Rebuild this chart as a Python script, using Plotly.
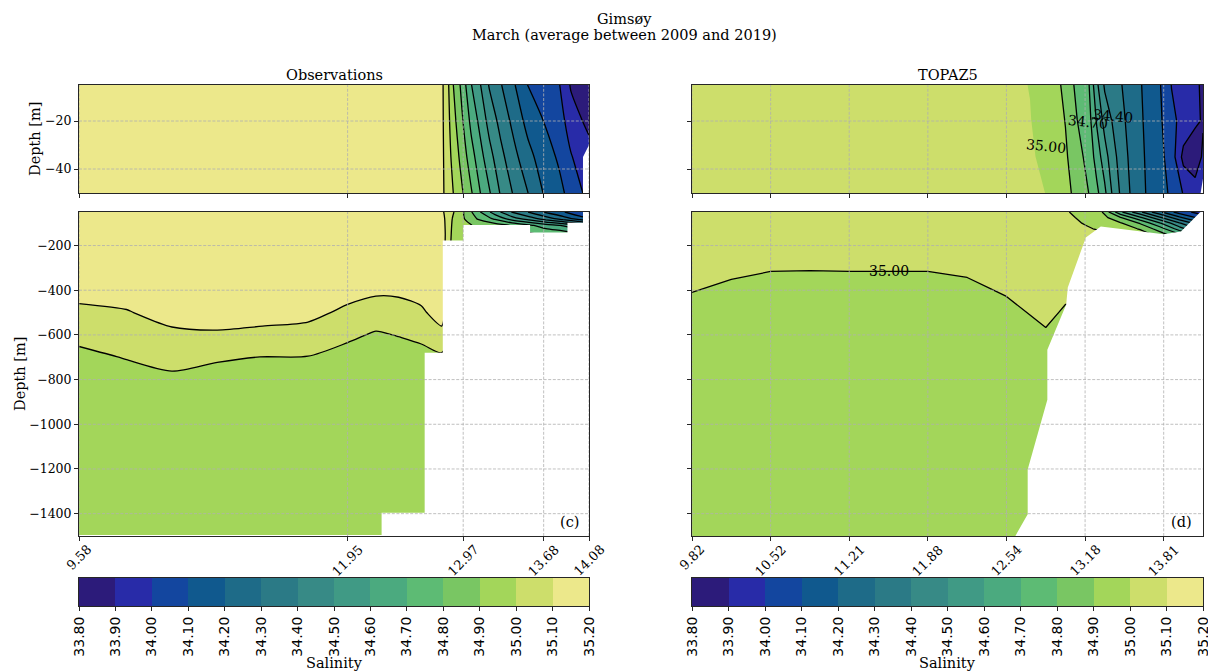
import plotly.graph_objects as go

# ---------------------------------------------------------------------------
# Salinity contour levels and the colour of each band between two levels
# ---------------------------------------------------------------------------
levels = [33.80, 33.90, 34.00, 34.10, 34.20, 34.30, 34.40, 34.50,
          34.60, 34.70, 34.80, 34.90, 35.00, 35.10, 35.20]
band_colors = ["#2c1b7a", "#282ba8", "#13469f", "#10598e", "#1e6b88",
               "#2b7a86", "#378a86", "#409a85", "#4baa7f", "#5dbb74",
               "#79c663", "#a3d65a", "#cdde6b", "#ece88b"]

# ---------------------------------------------------------------------------
# Observations (longitude, depth [m], salinity)
# ---------------------------------------------------------------------------
obs_lon_shallow = [9.58, 12.70, 12.79, 12.84, 12.88, 12.94, 12.99, 13.04, 13.12,
                   13.20, 13.30, 13.42, 13.54, 13.67, 13.82, 13.92, 14.02, 14.08]
obs_depth_shallow = [-5, -20, -35, -50]
obs_sal_shallow = [
    [35.16, 35.16, 35.105, 35.005, 34.905, 34.805, 34.705, 34.605, 34.505,
     34.392, 34.308, 34.208, 34.098, 34.054, 34.002, 33.890, 33.850, 33.830],
    [35.16, 35.16, 35.107, 35.020, 34.938, 34.848, 34.762, 34.674, 34.571,
     34.465, 34.369, 34.267, 34.167, 34.103, 34.043, 33.949, 33.901, 33.880],
    [35.16, 35.16, 35.110, 35.035, 34.970, 34.890, 34.818, 34.743, 34.636,
     34.538, 34.430, 34.327, 34.235, 34.153, 34.084, 34.008, 33.952, 33.930],
    [35.16, 35.16, 35.112, 35.050, 35.003, 34.933, 34.875, 34.812, 34.702,
     34.611, 34.491, 34.386, 34.302, 34.202, 34.125, 34.067, 34.003, 33.970],
]

obs_lon_deep = [9.58, 10.0, 10.4, 10.8, 11.2, 11.6, 11.95, 12.2, 12.4, 12.6, 12.78,
                12.88, 12.97, 13.1, 13.25, 13.4, 13.55, 13.7, 13.85, 14.0, 14.08]
obs_depth_deep = [-50, -80, -110, -150, -200, -300, -400, -500, -600, -700,
                  -800, -1000, -1500]
obs_sal_deep = [
    [35.16] * 10 + [35.12, 35.01, 34.905, 34.725, 34.55, 34.395, 34.295, 34.185, 34.11, 34.02, 33.97],
    [35.16] * 10 + [35.14, 34.99, 34.91, 34.79, 34.68, 34.55, 34.45, 34.35, 34.25, 34.15, 34.11],
    [35.16] * 10 + [35.15, 34.98, 34.93, 34.88, 34.85, 34.79, 34.72, 34.65, 34.59, 34.49, 34.41],
    [35.16] * 11 + [34.97, 34.94, 34.92, 34.89, 34.86, 34.82, 34.79, 34.77, 34.71, 34.61],
    [35.16] * 11 + [34.96] * 10,
    [35.16] * 11 + [34.96] * 10,
    [35.131, 35.138, 35.16, 35.16, 35.16, 35.16, 35.137, 35.117, 35.118, 35.141, 35.16] + [34.96] * 10,
    [35.079, 35.094, 35.133, 35.155, 35.145, 35.128, 35.079, 35.053, 35.061, 35.082, 35.15] + [34.96] * 10,
    [35.027, 35.049, 35.082, 35.085, 35.071, 35.062, 35.020, 34.989, 35.004, 35.024, 35.067] + [34.96] * 10,
    [34.975, 35.005, 35.031, 35.015, 34.998, 34.997, 34.962, 34.950, 34.955, 34.965, 34.983] + [34.96] * 10,
    [34.95, 34.96, 34.981, 34.95, 34.95, 34.95, 34.95, 34.95, 34.95, 34.95, 34.95] + [34.96] * 10,
    [34.95] * 11 + [34.96] * 10,
    [34.95] * 11 + [34.96] * 10,
]

# Sea floor along the observed section
obs_bed_lon = [9.58, 12.25, 12.25, 12.63, 12.63, 12.79, 12.79, 12.97, 12.97,
               13.56, 13.56, 13.89, 13.89, 14.027, 14.027, 14.08]
obs_bed_depth = [-1496, -1496, -1396, -1396, -680, -680, -178, -178, -108,
                 -108, -142, -142, -98, -98, -35, -30]

obs_tick_lon = [9.58, 11.95, 12.97, 13.68, 14.08]

# ---------------------------------------------------------------------------
# TOPAZ5 (position along the section in grid steps, depth [m], salinity)
# ---------------------------------------------------------------------------
topaz_pos_shallow = [0, 1, 2, 3, 3.8, 4.3, 4.6, 4.75, 4.9, 5.05, 5.15, 5.25,
                     5.35, 5.5, 5.65, 5.8, 5.95, 6.1, 6.25, 6.4, 6.5]
topaz_depth_shallow = [-5, -20, -35, -50]
topaz_sal_shallow = [
    [35.06, 35.06, 35.06, 35.05, 35.03, 34.998, 34.93, 34.88, 34.768, 34.703, 34.52,
     34.385, 34.346, 34.288, 34.228, 34.168, 34.108, 33.997, 33.954, 33.911, 33.89],
    [35.06, 35.06, 35.06, 35.052, 35.033, 35.003, 34.951, 34.897, 34.801, 34.735, 34.588,
     34.464, 34.393, 34.305, 34.237, 34.174, 34.118, 34.025, 33.967, 33.91, 33.895],
    [35.06, 35.06, 35.06, 35.053, 35.037, 35.009, 34.971, 34.915, 34.835, 34.766, 34.655,
     34.543, 34.439, 34.323, 34.246, 34.181, 34.129, 34.054, 33.87, 33.86, 33.91],
    [35.06, 35.06, 35.06, 35.055, 35.04, 35.014, 34.992, 34.932, 34.868, 34.798, 34.723,
     34.622, 34.486, 34.34, 34.255, 34.187, 34.139, 34.082, 33.994, 33.93, 33.91],
]

topaz_pos_deep = [0, 0.5, 1, 1.5, 2, 2.5, 3, 3.5, 4, 4.5, 4.75,
                  5.0, 5.2, 5.45, 5.7, 5.95, 6.2, 6.5]
topaz_depth_deep = [-50, -75, -100, -125, -150, -200, -300, -400, -500, -600,
                    -700, -800, -1000, -1500]
topaz_sal_deep = [
    [35.06] * 7 + [35.055, 35.05, 35.02, 35.01, 34.96, 34.92, 34.62, 34.42, 34.22, 34.05, 33.95],
    [35.06] * 7 + [35.055, 35.05, 35.03, 35.02, 34.98, 34.95, 34.81, 34.62, 34.42, 34.22, 34.05],
    [35.06] * 7 + [35.055, 35.05, 35.035, 35.025, 34.995, 34.97, 34.91, 34.79, 34.61, 34.41, 34.21],
    [35.06] * 7 + [35.055, 35.05, 35.04, 35.03, 35.01, 34.99, 34.96, 34.89, 34.75, 34.55, 34.35],
    [35.06] * 7 + [35.055, 35.05, 35.045, 35.04, 35.03, 35.02, 35.01, 34.96, 34.85, 34.71, 34.51],
    [35.06, 35.06, 35.058, 35.056, 35.058, 35.058, 35.058, 35.06, 35.06, 35.06, 35.05,
     35.05, 35.04, 35.04, 35.04, 35.04, 35.04, 35.04],
    [35.055, 35.026, 35.008, 35.006, 35.008, 35.008, 35.008, 35.0215, 35.06, 35.06, 35.06,
     35.06, 35.04, 35.04, 35.04, 35.04, 35.04, 35.04],
    [35.005, 34.976, 34.958, 34.956, 34.958, 34.958, 34.958, 34.9715, 35.014, 35.06, 35.032,
     35.032, 35.04, 35.04, 35.04, 35.04, 35.04, 35.04],
    [34.955, 34.94, 34.94, 34.94, 34.94, 34.94, 34.94, 34.94, 34.964, 35.0335, 34.982,
     34.982, 35.04, 35.04, 35.04, 35.04, 35.04, 35.04],
    [34.94] * 9 + [34.9835, 34.94, 34.94] + [35.04] * 6,
    [34.94] * 12 + [35.04] * 6,
    [34.94] * 12 + [35.04] * 6,
    [34.94] * 12 + [35.04] * 6,
    [34.94] * 12 + [35.04] * 6,
]

# Sea floor along the model section
topaz_bed_pos = [4.0, 4.11, 4.27, 4.27, 4.52, 4.52, 4.76, 4.78, 5.01, 5.20,
                 6.00, 6.22, 6.46, 6.5]
topaz_bed_depth = [-1570, -1500, -1403, -1202, -890, -666, -464, -388, -164,
                   -115, -150, -137, -52, -44]

topaz_tick_pos = [0, 1, 2, 3, 4, 5, 6]
topaz_tick_lon = ["9.82", "10.52", "11.21", "11.88", "12.54", "13.18", "13.81"]

# ---------------------------------------------------------------------------
# Figure geometry (paper fractions of the 1208 x 671 canvas)
# ---------------------------------------------------------------------------
W, H = 1208, 671
LEFT = [79 / W, 589 / W]
RIGHT = [692 / W, 1203 / W]
TOP = [1 - 193 / H, 1 - 85 / H]
DEEP = [1 - 536 / H, 1 - 212 / H]
CBAR = [1 - 606 / H, 1 - 578 / H]

SERIF = "DejaVu Serif"
SANS = "DejaVu Sans"
SPINE = "#262626"

# Colour at each band centre; contour fills are sampled at band centres
band_scale = [[i / (len(band_colors) - 1), c] for i, c in enumerate(band_colors)]
band_mid = [round((a + b) / 2, 3) for a, b in zip(levels[:-1], levels[1:])]
level_text = ["%.2f" % v for v in levels]

fig = go.Figure()


def add_section(xa, ya, x, y, z, line_end, smooth):
    fig.add_trace(go.Contour(
        x=x, y=y, z=z, xaxis=xa, yaxis=ya,
        colorscale=band_scale, autocontour=False,
        contours=dict(start=levels[1], end=levels[-2], size=0.1,
                      coloring="fill", showlines=False),
        line=dict(width=0, smoothing=smooth),
        showscale=False, hoverinfo="skip"))
    fig.add_trace(go.Contour(
        x=x, y=y, z=z, xaxis=xa, yaxis=ya, autocontour=False,
        contours=dict(start=levels[1], end=line_end, size=0.1, coloring="none"),
        line=dict(color="black", width=1.3, smoothing=smooth),
        showscale=False, hoverinfo="skip"))


def add_seabed(xa, ya, bx, bd):
    fig.add_trace(go.Scatter(
        x=bx + [bx[-1], bx[0]], y=bd + [-1700, -1700],
        xaxis=xa, yaxis=ya, mode="lines", fill="toself",
        fillcolor="white", line=dict(width=0, color="white"),
        hoverinfo="skip", showlegend=False))


def add_colorbar(xa, ya):
    fig.add_trace(go.Heatmap(
        x=band_mid, y=[0], z=[band_mid], xaxis=xa, yaxis=ya,
        colorscale=band_scale, zmin=band_mid[0], zmax=band_mid[-1],
        showscale=False, hoverinfo="skip"))


# Observations
add_section("x", "y", obs_lon_shallow, obs_depth_shallow, obs_sal_shallow, 35.1, 0.8)
add_seabed("x", "y", obs_bed_lon, obs_bed_depth)
add_section("x3", "y3", obs_lon_deep, obs_depth_deep, obs_sal_deep, 35.1, 0.8)
add_seabed("x3", "y3", obs_bed_lon, obs_bed_depth)

# TOPAZ5
add_section("x2", "y2", topaz_pos_shallow, topaz_depth_shallow, topaz_sal_shallow, 34.9, 0)
add_seabed("x2", "y2", topaz_bed_pos, topaz_bed_depth)
add_section("x4", "y4", topaz_pos_deep, topaz_depth_deep, topaz_sal_deep, 35.0, 0)
add_seabed("x4", "y4", topaz_bed_pos, topaz_bed_depth)

add_colorbar("x5", "y5")
add_colorbar("x6", "y6")

# ---------------------------------------------------------------------------
# Axes
# ---------------------------------------------------------------------------
frame = dict(showline=True, mirror=True, linecolor=SPINE, linewidth=1,
             ticks="outside", ticklen=4, tickcolor=SPINE, tickwidth=1,
             showgrid=False, zeroline=False, automargin=False,
             tickfont=dict(family=SERIF, size=12.5, color="black"))

top_y = dict(range=[-50, -5], tickvals=[-20, -40])
deep_y = dict(range=[-1500, -50], tickvals=[-200, -400, -600, -800, -1000, -1200, -1400])
obs_x = dict(range=[obs_tick_lon[0], obs_tick_lon[-1]], tickvals=obs_tick_lon,
             showticklabels=False)
topaz_x = dict(range=[0, 6.5], tickvals=topaz_tick_pos, showticklabels=False)

cb_x = dict(range=[levels[0], levels[-1]], tickvals=levels, ticktext=level_text,
            tickangle=-90, showline=True, mirror=True, linecolor=SPINE, linewidth=1,
            ticks="outside", ticklen=4, tickcolor=SPINE, showgrid=False, zeroline=False,
            automargin=False, ticklabeloverflow="allow",
            tickfont=dict(family=SANS, size=14, color="black"))
cb_y = dict(range=[-0.5, 0.5], showticklabels=False, ticks="", showline=True,
            mirror=True, linecolor=SPINE, linewidth=1, showgrid=False, zeroline=False,
            automargin=False)

fig.update_layout(
    width=W, height=H, margin=dict(l=0, r=0, t=0, b=0, autoexpand=False),
    paper_bgcolor="white", plot_bgcolor="white", showlegend=False,
    font=dict(family=SERIF, size=12, color="black"),
    xaxis=dict(domain=LEFT, anchor="y", **obs_x, **frame),
    yaxis=dict(domain=TOP, anchor="x", **top_y, **frame),
    xaxis2=dict(domain=RIGHT, anchor="y2", **topaz_x, **frame),
    yaxis2=dict(domain=TOP, anchor="x2", showticklabels=False, **top_y, **frame),
    xaxis3=dict(domain=LEFT, anchor="y3", **obs_x, **frame),
    yaxis3=dict(domain=DEEP, anchor="x3", **deep_y, **frame),
    xaxis4=dict(domain=RIGHT, anchor="y4", **topaz_x, **frame),
    yaxis4=dict(domain=DEEP, anchor="x4", showticklabels=False, **deep_y, **frame),
    xaxis5=dict(domain=LEFT, anchor="y5", **cb_x),
    yaxis5=dict(domain=CBAR, anchor="x5", **cb_y),
    xaxis6=dict(domain=RIGHT, anchor="y6", **cb_x),
    yaxis6=dict(domain=CBAR, anchor="x6", **cb_y),
)

# Dashed grid drawn over the filled sections
grid_line = dict(color="#b0b0b0", width=0.8, dash="3px,1.6px")
shapes = []
for xa, ya, xv, yv in [("x", "y", obs_tick_lon, top_y["tickvals"]),
                       ("x3", "y3", obs_tick_lon, deep_y["tickvals"]),
                       ("x2", "y2", topaz_tick_pos, top_y["tickvals"]),
                       ("x4", "y4", topaz_tick_pos, deep_y["tickvals"])]:
    for v in xv:
        shapes.append(dict(type="line", xref=xa, yref=ya + " domain", x0=v, x1=v,
                           y0=0, y1=1, line=grid_line, layer="above"))
    for v in yv:
        shapes.append(dict(type="line", xref=xa + " domain", yref=ya, x0=0, x1=1,
                           y0=v, y1=v, line=grid_line, layer="above"))
fig.update_layout(shapes=shapes)

# ---------------------------------------------------------------------------
# Text
# ---------------------------------------------------------------------------
def paper_text(text, px, py, size=14.5, angle=0, family=SERIF):
    fig.add_annotation(text=text, x=px / W, y=1 - py / H, xref="paper", yref="paper",
                       showarrow=False, xanchor="center", yanchor="middle",
                       textangle=angle, font=dict(family=family, size=size, color="black"))


paper_text("Gimsøy", 624, 19)
paper_text("March (average between 2009 and 2019)", 625, 35)
paper_text("Observations", 334, 75)
paper_text("TOPAZ5", 947.5, 75)
paper_text("Depth [m]", 35, 139, angle=-90)
paper_text("Depth [m]", 20, 374, angle=-90)
paper_text("(c)", 569, 522)
paper_text("(d)", 1181, 522)
paper_text("Salinity", 334, 663)
paper_text("Salinity", 947.5, 663)

# Rotated longitude labels, centred under each tick
tick_label_y = 1 - 541 / H
for xa, vals, texts in [("x3", obs_tick_lon, ["%.2f" % v for v in obs_tick_lon]),
                        ("x4", topaz_tick_pos, topaz_tick_lon)]:
    for v, t in zip(vals, texts):
        fig.add_annotation(text=t, x=v, y=tick_label_y, xref=xa, yref="paper",
                           showarrow=False, xanchor="center", yanchor="top",
                           textangle=-45, borderpad=0,
                           font=dict(family=SERIF, size=13, color="black"))


def contour_label(text, xa, ya, x, y, angle=0):
    fig.add_annotation(text=text, x=x, y=y, xref=xa, yref=ya, showarrow=False,
                       xanchor="center", yanchor="middle", textangle=angle,
                       font=dict(family=SERIF, size=14, color="black"))


contour_label("35.00", "x2", "y2", 4.50, -30.6, 6)
contour_label("34.70", "x2", "y2", 5.04, -20.5, 6)
contour_label("34.40", "x2", "y2", 5.36, -18.0, 5)
contour_label("35.00", "x4", "y4", 2.51, -316, 0)

fig.write_html("out.html")
